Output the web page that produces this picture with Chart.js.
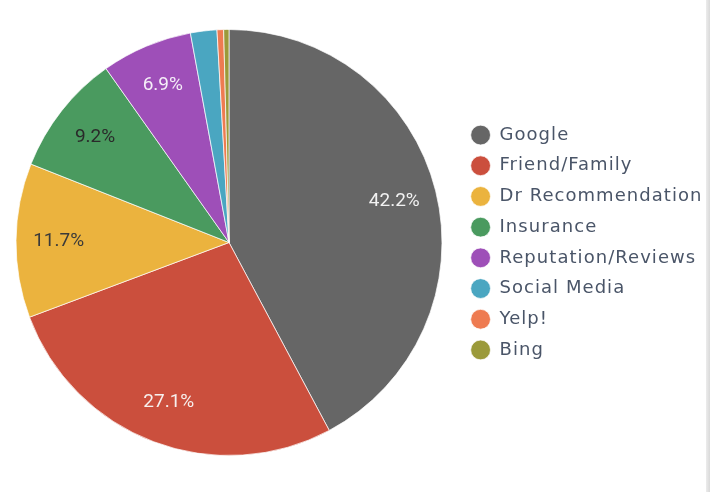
<!DOCTYPE html>
<html>
<head>
<meta charset="utf-8">
<script src="https://cdn.jsdelivr.net/npm/chart.js@4"></script>
<style>
  html, body { margin: 0; padding: 0; background: #ffffff; }
  #wrap { position: relative; width: 710px; height: 492px; overflow: hidden; }
  #edge { position: absolute; right: 0; top: 0; width: 4px; height: 492px; background: linear-gradient(to right, #ececec, #d9d9d9); }
</style>
</head>
<body>
<div id="wrap">
  <canvas id="c" width="710" height="492"></canvas>
  <div id="edge"></div>
</div>
<script>
// ---- data ----
const categories = ['Google', 'Friend/Family', 'Dr Recommendation', 'Insurance', 'Reputation/Reviews', 'Social Media', 'Yelp!', 'Bing'];
const shares = [42.2, 27.1, 11.7, 9.2, 6.9, 2.0, 0.5, 0.4];
const minLabelShare = 5;

// ---- styles ----
const sliceColors = ['#666666', '#cb4f3d', '#ebb33e', '#4a9a5f', '#9e4fb8', '#4aa6c1', '#ee7b51', '#9b9a3a'];
const labelColors = ['#f2f2f2', '#f7f0ee', '#3a3a3a', '#2a2a2a', '#f5eef8', '#ffffff', '#ffffff', '#ffffff'];

const LEGEND_W = 252;

const legendWidthPlugin = {
  id: 'legendWidth',
  beforeLayout(chart) {
    const legend = chart.legend;
    if (legend && !legend._patchedFit) {
      const orig = legend.fit;
      legend.fit = function () { orig.call(this); this.width = LEGEND_W; };
      legend._patchedFit = true;
    }
  },
  beforeDraw(chart) {
    try { chart.ctx.letterSpacing = '1.05px'; } catch (e) {}
  }
};

const sliceLabelPlugin = {
  id: 'sliceLabels',
  afterDatasetsDraw(chart) {
    const ctx = chart.ctx;
    try { ctx.letterSpacing = '0px'; } catch (e) {}
    const meta = chart.getDatasetMeta(0);
    const data = chart.data.datasets[0].data;
    const total = data.reduce((a, b) => a + b, 0);
    ctx.save();
    ctx.font = '400 19px Roboto, "Noto Sans", sans-serif';
    ctx.textAlign = 'center';
    ctx.textBaseline = 'middle';
    meta.data.forEach((arc, i) => {
      const pct = data[i] / total * 100;
      if (pct < minLabelShare) return;
      const p = arc.getProps(['x', 'y', 'startAngle', 'endAngle', 'outerRadius'], true);
      const mid = (p.startAngle + p.endAngle) / 2;
      const r = p.outerRadius * 0.8;
      ctx.fillStyle = labelColors[i];
      ctx.fillText(pct.toFixed(1) + '%', p.x + Math.cos(mid) * r, p.y + Math.sin(mid) * r);
    });
    ctx.restore();
  }
};

new Chart(document.getElementById('c'), {
  type: 'pie',
  data: {
    labels: categories,
    datasets: [{
      data: shares,
      backgroundColor: sliceColors,
      borderColor: 'rgba(255,255,255,0.7)',
      borderWidth: 1
    }]
  },
  options: {
    responsive: false,
    animation: false,
    layout: { padding: { left: 0, right: 0, top: 29, bottom: 36 } },
    plugins: {
      tooltip: { enabled: false },
      legend: {
        position: 'right',
        align: 'center',
        labels: {
          usePointStyle: true,
          pointStyle: 'circle',
          boxHeight: 14,
          pointStyleWidth: 19.8,
          padding: 12.7,
          color: '#4a5568',
          font: { family: '"DejaVu Sans", sans-serif', size: 18 }
        }
      }
    }
  },
  plugins: [legendWidthPlugin, sliceLabelPlugin]
});
</script>
</body>
</html>
